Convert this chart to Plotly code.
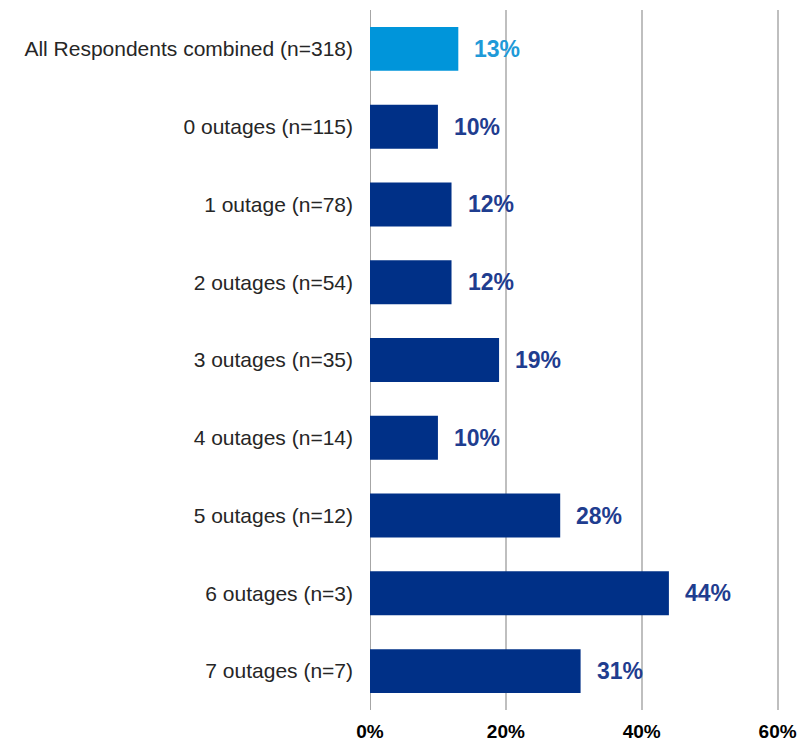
import plotly.graph_objects as go

# Share of respondents, by number of outages experienced
categories = [
    "All Respondents combined (n=318)",
    "0 outages (n=115)",
    "1 outage (n=78)",
    "2 outages (n=54)",
    "3 outages (n=35)",
    "4 outages (n=14)",
    "5 outages (n=12)",
    "6 outages (n=3)",
    "7 outages (n=7)",
]
values = [13, 10, 12, 12, 19, 10, 28, 44, 31]
tick_values = [0, 20, 40, 60]
tick_labels = ["0%", "20%", "40%", "60%"]

bar_colors = ["#0095DA"] + ["#003087"] * (len(values) - 1)
label_colors = ["#1E9AD8"] + ["#1F3D8F"] * (len(values) - 1)

FONT = "Liberation Sans, Arial, sans-serif"

fig = go.Figure(
    go.Bar(
        x=values,
        y=categories,
        orientation="h",
        marker=dict(color=bar_colors, line=dict(width=0)),
        width=0.565,
        hoverinfo="skip",
    )
)

for cat, v, c in zip(categories, values, label_colors):
    fig.add_annotation(
        x=v, y=cat, text=f"<b>{v}%</b>", showarrow=False,
        xanchor="left", xshift=14,
        font=dict(family=FONT, size=23, color=c),
    )

fig.update_layout(
    width=799, height=742,
    margin=dict(l=370, r=18, t=10, b=32),
    plot_bgcolor="white", paper_bgcolor="white",
    showlegend=False,
)
fig.update_xaxes(
    range=[0, 60.5], tickvals=tick_values, ticktext=[f"<b>{t}</b>" for t in tick_labels],
    showgrid=True, gridcolor="#BFBFBF", gridwidth=2, zeroline=False,
    showline=False, ticks="", ticklabelstandoff=8, automargin=False,
    tickfont=dict(family=FONT, size=19, color="#000000"),
    fixedrange=True,
)
fig.update_yaxes(
    categoryorder="array", categoryarray=categories, autorange="reversed",
    showgrid=False, zeroline=False, showline=False, ticks="",
    ticklabelstandoff=16, automargin=False,
    tickfont=dict(family=FONT, size=21, color="#262626"),
    fixedrange=True,
)
# Baseline at 0%
fig.add_shape(type="line", xref="x", yref="paper", x0=0, x1=0, y0=0, y1=1,
              line=dict(color="#A6A6A6", width=2), layer="below")

fig.write_html("out.html")
